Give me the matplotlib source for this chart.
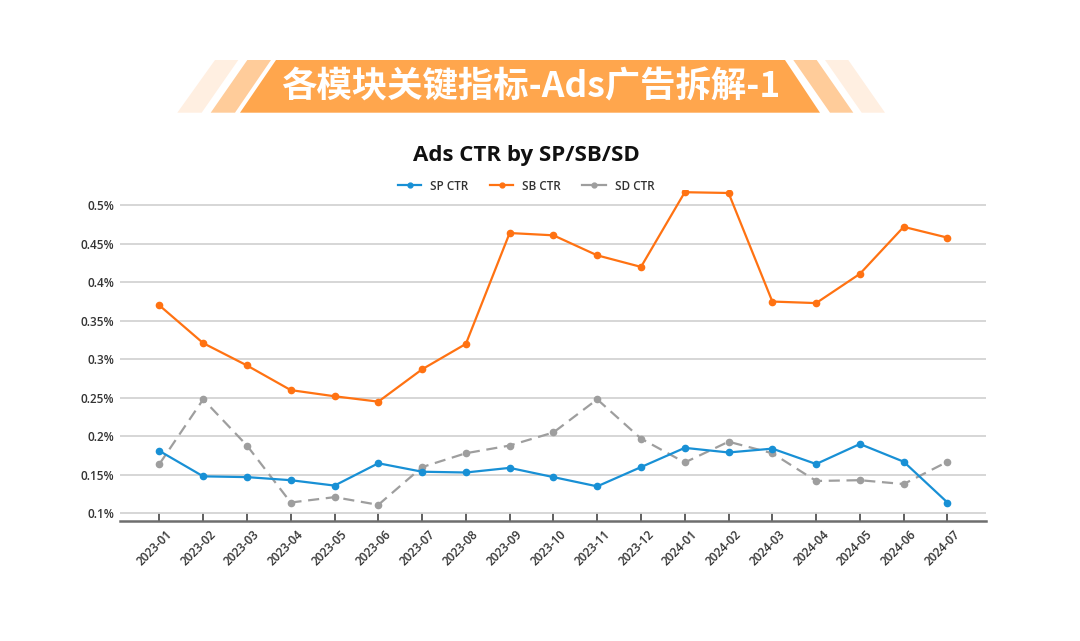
import matplotlib
matplotlib.use("Agg")
import matplotlib.pyplot as plt
from matplotlib.patches import Polygon
from matplotlib.lines import Line2D
import matplotlib.transforms as mtransforms

months = ["2023-01", "2023-02", "2023-03", "2023-04", "2023-05", "2023-06",
          "2023-07", "2023-08", "2023-09", "2023-10", "2023-11", "2023-12",
          "2024-01", "2024-02", "2024-03", "2024-04", "2024-05", "2024-06", "2024-07"]
sp_ctr = [0.181, 0.148, 0.147, 0.143, 0.136, 0.165, 0.154, 0.153, 0.159, 0.147,
          0.135, 0.160, 0.185, 0.179, 0.184, 0.164, 0.190, 0.167, 0.114]
sb_ctr = [0.370, 0.321, 0.292, 0.260, 0.252, 0.245, 0.287, 0.320, 0.464, 0.461,
          0.435, 0.420, 0.517, 0.516, 0.375, 0.373, 0.411, 0.472, 0.458]
sd_ctr = [0.164, 0.248, 0.188, 0.114, 0.121, 0.111, 0.160, 0.178, 0.188, 0.205,
          0.248, 0.197, 0.166, 0.193, 0.178, 0.142, 0.143, 0.138, 0.167]
y_ticks = [0.1, 0.15, 0.2, 0.25, 0.3, 0.35, 0.4, 0.45, 0.5]
y_tick_labels = ["0.1%", "0.15%", "0.2%", "0.25%", "0.3%", "0.35%", "0.4%", "0.45%", "0.5%"]
banner_title = "各模块关键指标-Ads广告拆解-1"
chart_title = "Ads CTR by SP/SB/SD"
series_names = ["SP CTR", "SB CTR", "SD CTR"]

W, H = 1080, 641
fig = plt.figure(figsize=(W / 100, H / 100), dpi=100)
fig.patch.set_facecolor("white")

# ---- banner (pixel coordinates overlay) ----
bg = fig.add_axes([0, 0, 1, 1])
bg.set_xlim(0, W)
bg.set_ylim(H, 0)
bg.axis("off")
top, bot = 60, 112.7
pale = "#FFEFE1"
peach = "#FFCC9A"
orange = "#FFA64D"
shapes = [
    ([(215, top), (238.3, top), (201.7, bot), (177.3, bot)], pale),
    ([(247.3, top), (271, top), (235, bot), (210.7, bot)], peach),
    ([(276, top), (785, top), (820, bot), (240, bot)], orange),
    ([(793.3, top), (816.7, top), (853.3, bot), (830, bot)], peach),
    ([(825, top), (848.3, top), (885, bot), (861.7, bot)], pale),
]
for pts, c in shapes:
    bg.add_patch(Polygon(pts, closed=True, facecolor=c, edgecolor="none"))
bg.text(531, 87, banner_title, color="white", fontsize=25.5, fontweight="bold",
        family=["Noto Sans CJK SC", "DejaVu Sans"], ha="center", va="center")

# ---- chart ----
fam = ["Open Sans", "DejaVu Sans"]
colors = ["#1890D5", "#FF7212", "#9E9E9E"]
ax = fig.add_axes([120 / W, 1 - 520.7 / H, 866 / W, (520.7 - 189.9) / H])
x = list(range(len(months)))
ax.plot(x, sp_ctr, color=colors[0], lw=1.6, marker="o", ms=4.5, zorder=4)
ax.plot(x, sb_ctr, color=colors[1], lw=1.6, marker="o", ms=4.5, zorder=4)
ax.plot(x, sd_ctr, color=colors[2], lw=1.6, marker="o", ms=4.5, ls=(0, (5, 3)), zorder=3)

ax.set_xlim(-0.9, len(months) - 1 + 0.88)
ax.set_ylim(0.0904, 0.52)
ax.set_yticks(y_ticks)
ax.set_yticklabels(y_tick_labels, family=fam, fontsize=8.5, color="#333333",
                   fontweight="semibold")
ax.set_xticks(x)
ax.set_xticklabels([])
lab_tr = ax.get_xaxis_transform() + mtransforms.ScaledTranslation(6 / 100, -7 / 100,
                                                                   fig.dpi_scale_trans)
for i, m in enumerate(months):
    ax.text(i, 0, m, transform=lab_tr, rotation=45, ha="right", va="top",
            rotation_mode="anchor", family=fam, fontsize=8.5, color="#333333",
            fontweight="semibold", clip_on=False)
ax.grid(axis="y", color="#D3D3D3", lw=1.3)
ax.set_axisbelow(True)
for s in ["top", "right", "left"]:
    ax.spines[s].set_visible(False)
ax.spines["bottom"].set_color("#6E6E6E")
ax.spines["bottom"].set_linewidth(1.8)
ax.tick_params(axis="y", length=0, pad=4)
ax.tick_params(axis="x", direction="in", length=6, width=1.2, color="#444444", pad=6)
ax.set_facecolor("none")

fig.text(526 / W, 1 - 155 / H, chart_title, family=fam, fontsize=16, fontweight="bold",
         ha="center", va="center", color="#111111")
handles = [Line2D([], [], color=c, lw=1.6, marker="o", ms=3.5) for c in colors]
leg = fig.legend(handles, series_names, loc="center", bbox_to_anchor=(526 / W, 1 - 186 / H),
                 ncol=3, frameon=False, prop={"family": fam, "size": 8.5, "weight": "semibold"},
                 handlelength=2.0, columnspacing=1.8, handletextpad=0.75)
for t in leg.get_texts():
    t.set_color("#333333")

fig.savefig("out.png", dpi=100, facecolor="white")
